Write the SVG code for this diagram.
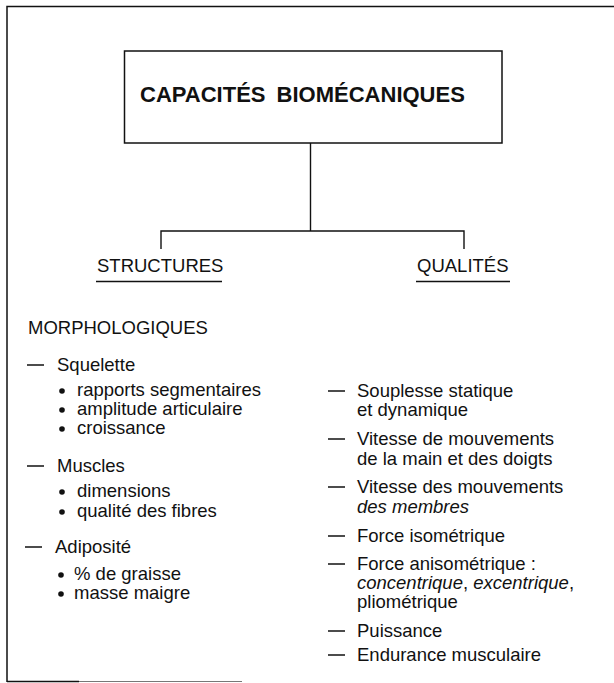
<svg xmlns="http://www.w3.org/2000/svg" width="614" height="683" viewBox="0 0 614 683">
<style>
.t{font-family:"Liberation Sans",Arial,Helvetica,sans-serif;font-size:18.5px;fill:#111}
.title{font-family:"Liberation Sans",Arial,Helvetica,sans-serif;font-size:22px;font-weight:bold;fill:#111;word-spacing:5px}
.ln{stroke:#111;stroke-width:1.5;fill:none}
.cn{stroke:#111;stroke-width:1.4;fill:none}
.i{font-style:italic}
</style>
<defs>
<path id="dash" d="M0,0 h17" stroke="#111" stroke-width="1.5"/>
<circle id="dot" r="2.8" fill="#111"/>
</defs>
<g id="frame">
<path class="ln" d="M7,682 V6.5 H614"/>
<path class="ln" d="M7,681.5 H79"/>
<path d="M79,681.5 H242" stroke="#777" stroke-width="1.2"/>
</g>
<g id="title">
<rect class="ln" x="124.5" y="51" width="377.5" height="92"/>
<text class="title" x="140" y="102">CAPACITÉS BIOMÉCANIQUES</text>
</g>
<g id="connectors">
<path class="cn" d="M310.5,143 V231"/>
<path class="cn" d="M161,249 V231 H464 V249"/>
</g>
<g id="structures">
<text class="t" x="97" y="272">STRUCTURES</text>
<path class="cn" d="M96,281.5 H222"/>
</g>
<g id="qualites">
<text class="t" x="417" y="272">QUALITÉS</text>
<path class="cn" d="M416,281.5 H510"/>
</g>
<g id="morphologiques">
<text class="t" x="28" y="334">MORPHOLOGIQUES</text>
<use href="#dash" x="27" y="365"/>
<text class="t" x="57" y="371">Squelette</text>
<use href="#dot" x="62" y="391"/>
<text class="t" x="77" y="396">rapports segmentaires</text>
<use href="#dot" x="62" y="410"/>
<text class="t" x="77" y="415">amplitude articulaire</text>
<use href="#dot" x="62" y="429"/>
<text class="t" x="77" y="434">croissance</text>
<use href="#dash" x="27" y="466"/>
<text class="t" x="57" y="472">Muscles</text>
<use href="#dot" x="62" y="492"/>
<text class="t" x="77" y="497">dimensions</text>
<use href="#dot" x="62" y="512"/>
<text class="t" x="77" y="517">qualité des fibres</text>
<use href="#dash" x="25" y="547"/>
<text class="t" x="55" y="553">Adiposité</text>
<use href="#dot" x="61" y="575"/>
<text class="t" x="74" y="580">% de graisse</text>
<use href="#dot" x="61" y="594"/>
<text class="t" x="74" y="599">masse maigre</text>
</g>
<g id="qualites-list">
<use href="#dash" x="328" y="391"/>
<text class="t" x="357" y="397">Souplesse statique</text>
<text class="t" x="357" y="416">et dynamique</text>
<use href="#dash" x="328" y="439"/>
<text class="t" x="357" y="445">Vitesse de mouvements</text>
<text class="t" x="357" y="465">de la main et des doigts</text>
<use href="#dash" x="328" y="487"/>
<text class="t" x="357" y="493">Vitesse des mouvements</text>
<text class="t i" x="357" y="513">des membres</text>
<use href="#dash" x="328" y="536"/>
<text class="t" x="357" y="542">Force isométrique</text>
<use href="#dash" x="328" y="564"/>
<text class="t" x="357" y="570">Force anisométrique :</text>
<text class="t" x="357" y="589"><tspan class="i">concentrique</tspan>, <tspan class="i">excentrique</tspan>,</text>
<text class="t" x="357" y="608">pliométrique</text>
<use href="#dash" x="328" y="631"/>
<text class="t" x="357" y="637">Puissance</text>
<use href="#dash" x="328" y="655"/>
<text class="t" x="357" y="661">Endurance musculaire</text>
</g>
</svg>
